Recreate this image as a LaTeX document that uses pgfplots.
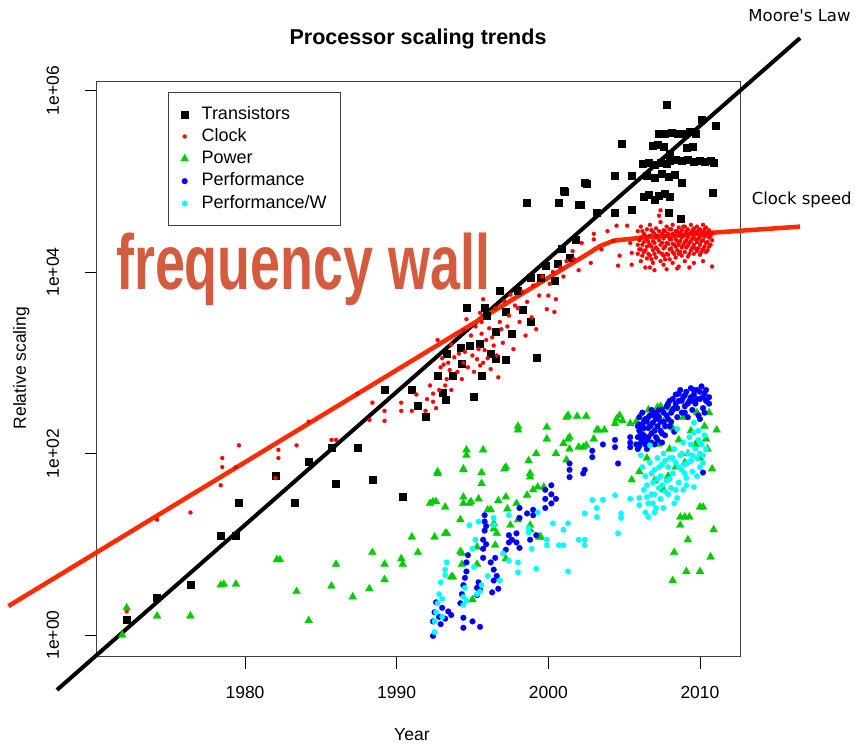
\documentclass[border=0pt]{standalone}
\usepackage{pgfplots}
\pgfplotsset{compat=1.18}
\usepackage{pgfplotstable}
\usepackage{fontspec}
\setmainfont{Liberation Sans}
\newfontfamily\dejavu{DejaVu Sans}
\definecolor{rgreen}{RGB}{0,205,0}
\definecolor{rred}{RGB}{255,0,0}
\definecolor{rblue}{RGB}{0,0,255}
\definecolor{rcyan}{RGB}{0,255,255}
\definecolor{clockline}{RGB}{255,42,0}
\definecolor{wallred}{RGB}{213,91,62}

% x = year, y = log10(relative scaling)
\pgfplotstableread{
x y
1972.2 0.17
1974.2 0.41
1976.4 0.56
1978.4 1.09
1979.4 1.09
1979.6 1.46
1982.0 1.76
1983.3 1.46
1984.2 1.91
1985.7 2.07
1986.0 1.67
1987.4 2.06
1988.4 1.71
1989.2 2.70
1990.4 1.53
1991.0 2.70
1991.4 2.53
1991.9 2.41
1992.7 2.86
1993.0 2.67
1993.2 2.59
1993.3 3.10
1993.7 2.86
1994.2 3.17
1994.3 2.99
1994.6 3.61
1994.8 3.19
1995.1 2.63
1995.5 3.21
1995.6 2.86
1995.8 3.61
1995.9 3.52
1996.2 3.10
1996.5 3.34
1996.5 3.05
1996.8 3.80
1997.2 3.56
1997.2 3.04
1997.6 3.32
1998.0 3.80
1998.3 3.59
1998.8 3.94
1998.8 3.45
1999.2 3.06
1999.5 3.94
1999.8 4.07
2000.4 3.91
2000.6 4.09
2000.9 4.26
2001.4 4.16
2001.8 4.36
1998.6 4.77
2000.7 4.77
2001.0 4.90
2001.1 4.89
2002.0 4.74
2002.1 4.74
2002.5 4.97
2002.4 4.98
2003.2 4.65
2004.4 5.06
2004.4 4.65
2004.8 5.41
2005.5 5.06
2005.5 4.69
2006.3 4.83
2006.6 4.85
2007.0 4.80
2007.3 4.84
2007.7 4.86
2008.0 4.83
2006.2 5.19
2006.6 5.20
2007.0 5.18
2007.4 5.21
2007.8 5.19
2006.5 5.06
2007.0 5.04
2007.5 5.08
2007.9 5.05
2008.3 5.07
2006.9 5.39
2007.2 5.40
2007.6 5.38
2008.0 5.30
2008.0 5.23
2008.4 5.24
2008.8 5.23
2009.2 5.24
2009.6 5.22
2010.0 5.23
2010.3 5.22
2010.7 5.23
2010.9 5.21
2007.3 5.52
2007.7 5.53
2008.1 5.54
2008.5 5.52
2008.9 5.53
2009.3 5.55
2009.7 5.52
2007.8 5.85
2010.1 5.68
2011.0 5.61
2010.8 4.87
2008.7 4.59
2007.9 4.65
2008.8 4.99
2009.1 5.37
2009.5 5.38
}\transistors

\pgfplotstableread{
x y
1972.2 0.26
1974.2 1.27
1976.4 1.35
1978.4 1.65
1978.5 1.85
1978.5 1.95
1979.4 1.85
1979.6 2.09
1982.0 1.73
1982.2 1.95
1982.2 2.04
1983.4 2.09
1984.2 2.35
1985.7 2.15
1986.0 2.15
1987.4 2.66
1988.2 2.37
1988.4 2.56
1989.2 2.47
1989.2 2.36
1990.3 2.56
1990.3 2.47
1991.0 2.47
1991.3 2.65
1991.9 2.47
1992.4 2.66
1992.4 2.57
1992.7 3.25
1992.9 2.95
1993.2 2.75
1993.3 2.82
1993.5 2.92
1994.3 2.82
1994.4 3.36
1994.6 3.48
1994.7 2.95
1995.3 3.04
1995.5 2.97
1995.6 3.32
1995.7 3.70
1995.8 3.14
1995.9 3.25
1996.2 2.93
1996.4 3.19
1996.6 3.08
1996.7 2.84
1996.9 3.37
1997.4 3.52
1997.7 3.15
1997.8 3.63
1998.1 3.45
1998.6 3.67
1998.9 3.50
1999.2 3.37
1999.4 3.74
1999.9 3.59
2000.0 3.74
2000.4 3.56
2000.5 3.70
2000.1 3.87
1993.0 3.05
1993.1 2.98
1993.4 3.00
1993.6 2.70
1993.8 3.06
1994.0 2.90
1994.1 3.10
1994.4 3.00
1994.5 3.12
1994.9 3.30
1995.0 3.08
1995.1 2.90
1995.2 3.40
1995.4 3.15
1995.5 3.55
1995.6 3.45
1995.7 3.00
1996.0 3.05
1996.1 3.38
1996.3 3.28
1996.5 3.60
1996.8 3.45
1997.0 3.22
1997.1 3.68
1997.3 3.40
1997.5 3.75
1998.0 3.60
1998.3 3.78
1998.5 3.30
1999.0 3.85
1999.6 3.95
2000.3 4.00
2000.8 4.05
1992.0 2.60
1992.2 2.75
1992.6 2.50
1992.8 2.70
1993.6 3.20
2004.5 4.51
2005.2 4.51
2003.0 4.42
2003.0 4.36
2002.2 4.32
2001.6 4.23
2001.2 4.12
2001.7 4.14
2004.3 4.34
2004.7 4.18
2004.6 4.07
2005.4 4.32
2005.5 4.21
2005.5 4.08
2002.8 4.10
2003.5 4.25
2003.9 4.45
2001.0 3.95
2002.0 4.02
2005.9 4.45
2005.9 4.30
2005.9 4.20
2006.1 4.50
2006.1 4.38
2006.1 4.25
2006.1 4.12
2006.3 4.42
2006.3 4.33
2006.3 4.22
2006.5 4.47
2006.5 4.36
2006.5 4.28
2006.5 4.15
2006.7 4.52
2006.7 4.40
2006.7 4.30
2006.7 4.18
2006.7 4.05
2006.9 4.44
2006.9 4.34
2006.9 4.24
2006.9 4.10
2007.1 4.48
2007.1 4.38
2007.1 4.27
2007.1 4.16
2007.3 4.62
2007.3 4.45
2007.3 4.35
2007.3 4.22
2007.4 4.68
2007.4 4.55
2007.4 4.30
2007.4 4.12
2007.6 4.46
2007.6 4.37
2007.6 4.26
2007.6 4.18
2007.6 4.08
2007.8 4.50
2007.8 4.40
2007.8 4.32
2007.8 4.20
2008.0 4.47
2008.0 4.36
2008.0 4.25
2008.0 4.14
2008.2 4.52
2008.2 4.42
2008.2 4.31
2008.2 4.22
2008.2 4.10
2008.4 4.45
2008.4 4.36
2008.4 4.28
2008.4 4.16
2008.6 4.49
2008.6 4.40
2008.6 4.30
2008.6 4.20
2008.6 4.06
2008.8 4.46
2008.8 4.38
2008.8 4.27
2008.8 4.18
2009.0 4.50
2009.0 4.41
2009.0 4.33
2009.0 4.22
2009.0 4.12
2009.2 4.47
2009.2 4.38
2009.2 4.29
2009.2 4.17
2009.4 4.52
2009.4 4.43
2009.4 4.34
2009.4 4.24
2009.6 4.48
2009.6 4.40
2009.6 4.30
2009.6 4.20
2009.6 4.10
2009.8 4.50
2009.8 4.42
2009.8 4.33
2009.8 4.23
2010.0 4.47
2010.0 4.39
2010.0 4.30
2010.0 4.19
2010.2 4.52
2010.2 4.44
2010.2 4.35
2010.2 4.25
2010.2 4.12
2010.4 4.49
2010.4 4.41
2010.4 4.32
2010.4 4.22
2010.6 4.46
2010.6 4.38
2010.6 4.28
2010.8 4.43
2010.8 4.35
2010.8 4.06
2007.0 4.02
2007.8 4.03
2008.5 4.04
2009.3 4.05
2006.4 4.05
2006.0 4.35
2006.0 4.25
2006.2 4.45
2006.2 4.30
2006.2 4.18
2006.4 4.40
2006.4 4.24
2006.6 4.33
2006.6 4.20
2006.8 4.46
2006.8 4.28
2006.8 4.14
2007.0 4.42
2007.0 4.32
2007.0 4.20
2007.2 4.40
2007.2 4.25
2007.5 4.42
2007.5 4.32
2007.5 4.20
2007.7 4.45
2007.7 4.28
2007.7 4.14
2007.9 4.42
2007.9 4.31
2007.9 4.19
2008.1 4.47
2008.1 4.36
2008.1 4.26
2008.3 4.40
2008.3 4.30
2008.3 4.20
2008.5 4.45
2008.5 4.34
2008.5 4.24
2008.7 4.43
2008.7 4.34
2008.7 4.22
2008.9 4.50
2008.9 4.40
2008.9 4.30
2009.1 4.45
2009.1 4.35
2009.1 4.27
2009.3 4.42
2009.3 4.32
2009.3 4.20
2009.5 4.46
2009.5 4.37
2009.5 4.27
2009.7 4.44
2009.7 4.36
2009.7 4.26
2009.9 4.46
2009.9 4.37
2009.9 4.26
2010.1 4.42
2010.1 4.34
2010.1 4.22
2010.3 4.47
2010.3 4.39
2010.3 4.28
2010.5 4.43
2010.5 4.33
2010.5 4.24
2010.7 4.40
2010.7 4.30
}\clock

\pgfplotstableread{
x y
1971.9 0.00
1972.2 0.30
1974.2 0.21
1976.4 0.21
1978.4 0.55
1978.6 0.56
1979.4 0.56
1982.1 0.83
1982.3 0.83
1983.4 0.48
1984.2 0.16
1985.7 0.54
1986.0 0.78
1987.1 0.42
1988.2 0.51
1988.4 0.91
1989.2 0.61
1989.2 0.78
1990.3 0.84
1990.4 0.78
1991.0 1.08
1991.4 0.91
1992.2 1.45
1992.4 1.47
1992.5 1.08
1992.6 1.47
1992.7 1.78
1992.7 1.80
1993.2 1.12
1993.2 1.41
1993.3 1.12
1993.6 0.64
1993.7 0.64
1994.2 0.92
1994.2 1.27
1994.3 0.90
1994.3 0.78
1994.4 1.83
1994.4 1.82
1994.4 1.52
1994.4 1.45
1994.6 2.04
1994.6 1.98
1994.8 1.45
1994.9 1.47
1995.0 0.39
1995.3 0.97
1995.3 0.78
1995.4 1.50
1995.6 1.79
1995.6 1.67
1995.7 2.04
1996.0 1.38
1996.2 1.38
1996.4 1.23
1996.4 1.17
1996.5 0.99
1996.6 1.12
1996.7 1.48
1997.1 1.83
1997.2 1.85
1997.2 1.52
1997.2 0.84
1997.3 1.39
1997.5 1.21
1997.9 1.45
1998.0 1.27
1998.0 2.26
1998.0 2.30
1998.6 1.54
1998.7 1.92
1998.8 1.74
1998.8 1.78
1998.8 1.16
1998.8 1.21
1999.0 1.60
1999.2 2.00
1999.3 1.63
1999.4 1.08
1999.5 1.08
1999.7 1.63
1999.9 2.29
1999.9 2.16
2000.5 2.00
2001.0 2.11
2001.2 2.40
2001.2 1.93
2001.3 2.42
2001.3 2.16
2001.4 2.18
2001.4 2.05
2001.9 2.41
2002.0 2.07
2002.3 2.07
2002.5 2.41
2002.5 2.09
2003.0 2.16
2003.2 2.26
2003.3 2.26
2003.7 2.26
2004.4 2.33
2004.5 2.38
2004.7 2.42
2004.9 2.36
2005.4 2.33
2005.5 1.71
2005.8 2.35
2006.0 1.80
2006.0 2.40
2006.6 2.48
2007.2 2.51
2007.4 2.52
2007.6 1.60
2008.2 0.60
2008.3 0.91
2008.7 1.30
2008.7 1.21
2009.0 1.30
2009.1 0.70
2009.2 1.05
2009.3 1.30
2010.0 1.41
2010.0 0.70
2010.2 1.41
2010.7 0.86
2010.8 1.83
2010.9 1.16
2011.1 2.26
2010.4 2.16
2006.3 2.20
2006.8 2.30
2007.2 2.10
2007.6 2.35
2008.0 2.05
2008.2 2.28
2008.6 2.15
2008.9 2.40
2009.2 2.00
2009.4 2.25
2009.7 2.10
2010.0 1.95
2010.3 2.30
2010.5 2.05
2009.0 1.90
2008.4 1.85
2007.9 1.75
2007.0 1.70
2006.5 1.95
2010.6 2.45
2009.8 2.45
2008.0 2.50
}\power

\pgfplotstableread{
x y
1992.4 -0.01
1992.4 0.15
1992.5 0.25
1992.6 0.36
1992.8 0.20
1993.0 0.30
1993.2 0.18
1993.4 0.26
1993.6 0.22
1992.9 0.12
1994.2 0.35
1994.3 0.45
1994.4 0.55
1994.5 0.63
1994.6 0.70
1994.6 0.80
1994.7 0.88
1994.4 0.08
1994.4 0.19
1995.0 0.15
1995.5 0.09
1995.3 0.44
1995.3 0.52
1995.4 0.58
1995.5 0.50
1995.7 0.85
1995.7 0.95
1995.7 1.05
1995.8 1.15
1995.8 1.25
1995.8 1.32
1995.9 1.00
1995.9 1.20
1996.3 0.47
1996.4 0.60
1996.4 0.72
1996.5 0.85
1996.6 0.65
1996.7 0.51
1996.2 0.80
1997.2 0.94
1997.4 1.02
1997.4 1.10
1997.6 1.05
1997.9 1.02
1997.9 1.12
1998.1 0.96
1998.8 1.05
1998.1 1.29
1998.1 1.40
1998.6 1.34
1999.0 1.32
1999.0 1.38
1999.2 1.10
1999.8 1.40
1999.8 1.50
1999.8 1.60
2000.2 1.45
2000.2 1.55
2000.2 1.65
2000.5 1.50
2001.4 1.74
2001.4 1.82
2001.4 1.89
2002.4 1.82
2002.3 1.78
2002.9 1.96
2002.9 2.03
2003.6 2.10
2004.4 2.07
2004.4 2.15
2004.6 1.89
2005.4 2.07
2005.4 2.12
2005.4 2.18
2005.8 2.10
2005.9 2.18
2006.0 2.25
2006.1 2.12
2006.2 2.30
2006.3 2.20
2006.4 2.38
2006.5 2.15
2006.6 2.28
2006.7 2.42
2006.8 2.22
2006.9 2.34
2007.0 2.45
2007.1 2.18
2007.2 2.30
2007.3 2.40
2007.4 2.25
2007.5 2.48
2007.6 2.35
2007.7 2.20
2007.8 2.42
2007.9 2.55
2008.0 2.30
2008.1 2.45
2008.2 2.60
2006.0 2.08
2006.5 2.05
2007.0 2.10
2007.5 2.12
2006.3 2.35
2006.8 2.48
2008.3 2.50
2008.4 2.65
2008.5 2.40
2008.6 2.58
2008.7 2.70
2008.8 2.45
2008.9 2.62
2009.0 2.52
2009.1 2.68
2009.2 2.40
2009.3 2.58
2009.4 2.72
2009.5 2.48
2009.6 2.65
2009.7 2.55
2009.8 2.70
2009.9 2.42
2010.0 2.60
2010.1 2.74
2010.2 2.50
2010.3 2.66
2010.4 2.58
2010.6 2.62
2010.0 2.38
2008.3 2.24
2010.2 1.79
2005.9 2.30
2006.0 2.40
2006.1 2.22
2006.2 2.15
2006.3 2.28
2006.4 2.10
2006.5 2.35
2006.6 2.18
2006.7 2.30
2006.8 2.12
2006.9 2.42
2007.0 2.25
2007.1 2.38
2007.2 2.15
2007.3 2.48
2007.4 2.35
2007.5 2.22
2007.6 2.45
2007.7 2.30
2007.8 2.52
2007.9 2.38
2008.0 2.58
2008.1 2.35
2008.2 2.48
2008.4 2.55
2008.6 2.66
2008.8 2.58
2009.0 2.64
2009.2 2.55
2009.4 2.62
2009.6 2.70
2009.8 2.60
2010.0 2.68
2010.2 2.62
2010.4 2.70
2010.6 2.55
2008.5 2.50
2009.0 2.45
2009.5 2.58
2010.3 2.45
2006.0 2.32
2006.6 2.40
2007.2 2.42
2006.2 2.45
2005.9 2.05
}\perf

\pgfplotstableread{
x y
1992.5 0.03
1992.5 0.15
1992.6 0.25
1992.7 0.35
1992.8 0.45
1992.9 0.58
1993.0 0.20
1993.2 0.66
1993.2 0.72
1993.3 0.80
1993.0 0.40
1994.4 0.33
1994.4 0.42
1994.5 0.52
1994.6 0.38
1995.3 0.45
1995.6 0.55
1995.5 0.48
1995.1 0.75
1995.4 1.25
1994.8 1.21
1995.0 0.95
1995.2 1.05
1996.4 1.21
1996.4 1.29
1997.4 1.32
1996.0 0.65
1996.8 0.60
1998.0 0.69
1998.0 0.80
1998.7 1.13
1998.7 1.18
1999.2 0.73
1999.9 0.99
1999.9 1.05
2000.3 1.23
2000.7 0.99
1997.4 0.82
1997.0 0.90
1999.3 1.35
1998.9 0.95
2001.0 1.16
2001.0 0.99
2001.3 1.23
2001.3 0.70
2002.0 1.05
2002.4 0.99
2002.4 1.05
2002.4 1.34
2002.9 1.49
2003.2 1.30
2003.2 1.40
2003.6 1.49
2004.4 1.54
2004.6 1.12
2004.8 1.29
2004.8 1.34
2005.4 1.50
2006.0 1.43
2006.0 1.51
2006.1 1.98
2006.3 1.60
2006.4 1.75
2006.6 1.30
2006.6 1.45
2006.7 1.90
2006.7 2.09
2006.8 1.55
2006.9 1.68
2007.0 1.82
2007.1 1.40
2007.2 1.95
2007.3 1.62
2007.4 1.50
2007.4 1.75
2007.5 1.88
2007.6 2.00
2007.7 1.58
2007.8 1.70
2007.9 1.85
2008.0 1.95
2008.1 1.62
2008.2 1.78
2008.3 2.05
2008.4 1.90
2008.5 1.51
2008.5 2.27
2008.6 1.68
2008.7 1.98
2008.8 1.82
2008.9 2.12
2009.0 1.88
2009.1 1.65
2009.1 1.73
2009.2 2.00
2009.3 2.18
2009.4 1.92
2009.5 1.80
2009.6 1.63
2009.6 2.23
2009.6 2.34
2009.7 2.05
2009.8 1.95
2009.9 2.15
2010.0 1.85
2010.1 2.10
2010.2 1.98
2010.3 2.20
2010.4 2.05
2007.0 1.35
2007.6 1.40
2008.3 1.45
2006.2 1.85
2006.5 1.65
2006.8 1.78
2007.0 1.55
2007.2 1.72
2007.3 1.85
2007.5 1.65
2007.7 1.92
2007.9 1.55
2008.0 1.72
2008.2 1.95
2008.4 1.60
2008.6 1.85
2008.8 2.00
2009.0 1.78
2009.2 1.90
2009.4 2.10
2009.5 1.98
2009.8 1.75
2010.0 2.00
2010.2 1.90
2006.5 1.52
2006.9 1.45
2008.9 1.60
2009.9 2.25
2006.4 1.35
}\perfw

\begin{document}
\begin{tikzpicture}
\useasboundingbox (0,0) rectangle (857bp,745bp);
\begin{axis}[
  scale only axis,
  width=643.3bp, height=575bp,
  at={(96.7bp,88.3bp)}, anchor=south west,
  xmin=1970.22, xmax=2012.64, ymin=-0.239, ymax=6.097,
  xtick={1980,1990,2000,2010},
  ytick={0,2,4,6},
  yticklabels={1e+00,1e+02,1e+04,1e+06},
  /pgf/number format/assume math mode=true,
  xticklabel style={/pgf/number format/1000 sep={}, anchor=north, inner ysep=17.5bp},
  tick align=outside, xtick pos=left, ytick pos=left,
  major tick length=12bp,
  tick style={black, line width=0.8bp},
  axis line style={line width=0.8bp, black!75},
  tick label style={font=\fontsize{17.5bp}{20bp}\selectfont},
  yticklabel style={rotate=90, anchor=south, inner ysep=15.5bp},
  yticklabel shift=10bp,
  clip=false,
  every axis title shift=0pt,
  title={\bfseries Processor scaling trends},
  title style={at={(axis description cs:0.4995,1.0745)}, anchor=center, font=\fontsize{21.5bp}{24bp}\selectfont},
  xlabel={Year},
  xlabel style={at={(axis description cs:0.49,-0.136)}, anchor=center, font=\fontsize{17.5bp}{20bp}\selectfont},
  ylabel={Relative scaling},
  ylabel style={at={(axis description cs:-0.117,0.502)}, anchor=center, rotate=0, font=\fontsize{17.5bp}{20bp}\selectfont},
  legend cell align=left,
  legend style={at={(axis description cs:0.1113,0.9826)}, anchor=north west,
    draw=black!75, line width=0.8bp, inner xsep=12bp, inner ysep=11bp,
    font=\fontsize{18bp}{20bp}\selectfont, column sep=11bp,
    nodes={inner sep=2bp, text height=14bp, text depth=4.3bp}},
]
\addplot[only marks, mark=square*, mark size=3.5bp, mark options={fill=black, draw=black, line width=0.2bp}] table {\transistors};
\addlegendentry{Transistors}
\addplot[only marks, mark=*, mark size=2bp, mark options={fill=rred, draw=rred, line width=0.2bp}] table {\clock};
\addlegendentry{Clock}
\addplot[only marks, mark=triangle*, mark size=4.6bp, mark options={fill=rgreen, draw=rgreen, line width=0.2bp}] table {\power};
\addlegendentry{Power}
\addplot[only marks, mark=*, mark size=2.9bp, mark options={fill=rblue, draw=rblue, line width=0.2bp}] table {\perf};
\addlegendentry{Performance}
\addplot[only marks, mark=*, mark size=2.8bp, mark options={fill=rcyan, draw=rcyan, line width=0.2bp}] table {\perfw};
\addlegendentry{Performance/W}
% trend lines
\addplot[forget plot, black, line width=4bp] coordinates {(1967.6,-0.605) (2016.6,6.578)};
\addplot[forget plot, clockline, line width=4.5bp, line join=round] coordinates {(1964.4,0.319) (2002.6,4.20) (2003.4,4.285) (2004.3,4.345) (2006.26,4.38) (2016.6,4.50)};
\end{axis}
\node[font=\dejavu\fontsize{16.5bp}{19bp}\selectfont, anchor=center] at (799.5bp,729bp) {Moore's Law};
\node[font=\dejavu\fontsize{16.5bp}{19bp}\selectfont, anchor=center] at (801.7bp,545bp) {Clock speed};
\node[anchor=base west, inner sep=0pt, text=wallred, font=\bfseries\fontsize{78bp}{80bp}\selectfont] at (116bp,455bp) {\scalebox{0.69}[1]{frequency wall}};
\end{tikzpicture}
\end{document}
